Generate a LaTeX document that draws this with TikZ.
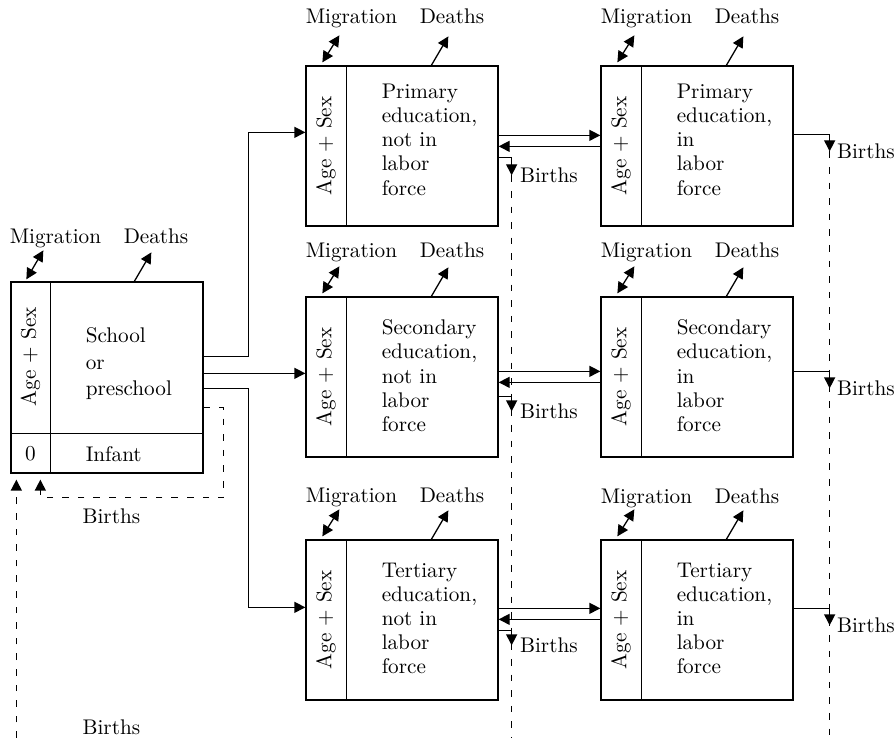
\documentclass[tikz,border=0pt]{standalone}
\usepackage{tikz}
\usetikzlibrary{arrows.meta}
\usetikzlibrary{calc}
\usetikzlibrary{positioning}

\begin{document}
\begin{tikzpicture}[x=0.5pt,y=0.5pt,yscale=-1,xscale=1,
  every node/.style={font=\fontsize{10.6}{12.1}\selectfont},
  cell/.style={draw,line width=0.65pt,minimum width=96pt,minimum height=80pt,inner sep=0pt},
  rule/.style={line width=0.65pt},
  txt/.style={anchor=north west,inner sep=0pt,align=left},
  side/.style={rotate=90,inner sep=0pt},
  lbl/.style={inner sep=0pt},
  tip/.style={-{Triangle[length=5.5pt,width=5.5pt]}},
  flow/.style={line width=0.65pt,tip},
  twoway/.style={line width=0.65pt,{Triangle[length=5.5pt,width=5.5pt]}-{Triangle[length=5.5pt,width=5.5pt]}},
  dashline/.style={line width=0.75pt,dash pattern=on 3.3pt off 4.5pt}]
\useasboundingbox (0,0) rectangle (895,738);
\coordinate (bot) at (0,738);

%Shape: boxes
\node[cell,minimum height=95.5pt] (sch) at (107,377.5) {};
\node[cell] (pn) at (402,146) {};
\node[cell] (pl) at (697,146) {};
\node[cell] (sn) at (402,377) {};
\node[cell] (sl) at (697,377) {};
\node[cell] (tn) at (402,620) {};
\node[cell] (tl) at (697,620) {};

%Straight Lines: dividers
\draw[rule] ($(sch.north west)+(40,0)$) -- ($(sch.south west)+(40,0)$);
\draw[rule] ($(sch.south west)+(0,-40)$) -- ($(sch.south east)+(0,-40)$);
\draw[rule] ($(pn.north west)+(41,0)$) -- ($(pn.south west)+(41,0)$);
\draw[rule] ($(pl.north west)+(41,0)$) -- ($(pl.south west)+(41,0)$);
\draw[rule] ($(sn.north west)+(41,0)$) -- ($(sn.south west)+(41,0)$);
\draw[rule] ($(sl.north west)+(41,0)$) -- ($(sl.south west)+(41,0)$);
\draw[rule] ($(tn.north west)+(41,0)$) -- ($(tn.south west)+(41,0)$);
\draw[rule] ($(tl.north west)+(41,0)$) -- ($(tl.south west)+(41,0)$);

% Text Node
\node[side] (schage) at ($(sch.north west)+(20,75.5)$) {Age + Sex};
\node[side] (pnage) at ($(pn.west)+(20.5,0)$) {Age + Sex};
\node[side] (plage) at ($(pl.west)+(20.5,0)$) {Age + Sex};
\node[side] (snage) at ($(sn.west)+(20.5,0)$) {Age + Sex};
\node[side] (slage) at ($(sl.west)+(20.5,0)$) {Age + Sex};
\node[side] (tnage) at ($(tn.west)+(20.5,0)$) {Age + Sex};
\node[side] (tlage) at ($(tl.west)+(20.5,0)$) {Age + Sex};

% Text Node
\node[txt,font=\fontsize{10.6}{13.2}\selectfont] (schtxt) at ($(sch.north west)+(75,46)$) {School\\or\\preschool};
\node[lbl] (schzero) at ($(sch.south west)+(20,-20)$) {0};
\node[lbl,anchor=west] (schinf) at ($(sch.south west)+(75,-20)$) {Infant};
\node[txt] (pntxt) at ($(pn.north west)+(76,18)$) {Primary\\education,\\not in\\labor\\force};
\node[txt] (pltxt) at ($(pl.north west)+(76,18)$) {Primary\\education,\\in\\labor\\force};
\node[txt] (sntxt) at ($(sn.north west)+(76,23)$) {Secondary\\education,\\not in\\labor\\force};
\node[txt] (sltxt) at ($(sl.north west)+(76,23)$) {Secondary\\education,\\in\\labor\\force};
\node[txt] (tntxt) at ($(tn.north west)+(76,23)$) {Tertiary\\education,\\not in\\labor\\force};
\node[txt] (tltxt) at ($(tl.north west)+(76,23)$) {Tertiary\\education,\\in\\labor\\force};

% Text Node: migration and deaths
\node[lbl,anchor=base west] (schmig) at ($(sch.north west)+(-1,-38)$) {Migration};
\node[lbl,anchor=base west] (schdea) at ($(sch.north west)+(113,-38)$) {Deaths};
\node[lbl,anchor=base west] (pnmig) at ($(pn.north west)+(0,-42)$) {Migration};
\node[lbl,anchor=base west] (pndea) at ($(pn.north west)+(114,-42)$) {Deaths};
\node[lbl,anchor=base west] (plmig) at ($(pl.north west)+(0,-42)$) {Migration};
\node[lbl,anchor=base west] (pldea) at ($(pl.north west)+(114,-42)$) {Deaths};
\node[lbl,anchor=base west] (snmig) at ($(sn.north west)+(0,-39)$) {Migration};
\node[lbl,anchor=base west] (sndea) at ($(sn.north west)+(114,-39)$) {Deaths};
\node[lbl,anchor=base west] (slmig) at ($(sl.north west)+(0,-39)$) {Migration};
\node[lbl,anchor=base west] (sldea) at ($(sl.north west)+(114,-39)$) {Deaths};
\node[lbl,anchor=base west] (tnmig) at ($(tn.north west)+(0,-37)$) {Migration};
\node[lbl,anchor=base west] (tndea) at ($(tn.north west)+(114,-37)$) {Deaths};
\node[lbl,anchor=base west] (tlmig) at ($(tl.north west)+(0,-36)$) {Migration};
\node[lbl,anchor=base west] (tldea) at ($(tl.north west)+(114,-36)$) {Deaths};

%Straight Lines: migration and deaths arrows
\draw[twoway] ($(sch.north west)+(16,-2)$) -- ($(sch.north west)+(33,-31)$);
\draw[flow] ($(sch.north west)+(124,0)$) -- ($(sch.north west)+(141,-29)$);
\draw[twoway] ($(pn.north west)+(17,-3)$) -- ($(pn.north west)+(34,-30)$);
\draw[flow] ($(pn.north west)+(126,0)$) -- ($(pn.north west)+(143,-29)$);
\draw[twoway] ($(pl.north west)+(17,-3)$) -- ($(pl.north west)+(34,-30)$);
\draw[flow] ($(pl.north west)+(126,0)$) -- ($(pl.north west)+(143,-29)$);
\draw[twoway] ($(sn.north west)+(17,-3)$) -- ($(sn.north west)+(34,-30)$);
\draw[flow] ($(sn.north west)+(126,0)$) -- ($(sn.north west)+(143,-29)$);
\draw[twoway] ($(sl.north west)+(17,-3)$) -- ($(sl.north west)+(34,-30)$);
\draw[flow] ($(sl.north west)+(126,0)$) -- ($(sl.north west)+(143,-29)$);
\draw[twoway] ($(tn.north west)+(17,-3)$) -- ($(tn.north west)+(34,-30)$);
\draw[flow] ($(tn.north west)+(126,0)$) -- ($(tn.north west)+(143,-29)$);
\draw[twoway] ($(tl.north west)+(17,-3)$) -- ($(tl.north west)+(34,-30)$);
\draw[flow] ($(tl.north west)+(126,0)$) -- ($(tl.north west)+(143,-29)$);

%Straight Lines: school to the three levels
\coordinate (s1) at ($(sch.north east)+(0,75)$);
\coordinate (s2) at ($(sch.north east)+(0,92)$);
\coordinate (s3) at ($(sch.north east)+(0,107)$);
\draw[flow] (s1) -- ++(45,0) |- ($(pn.north west)+(0,67)$);
\draw[flow] (s2) -- (s2 -| sn.west);
\draw[flow] (s3) -- ++(45,0) |- ($(tn.north west)+(0,68)$);

%Straight Lines: births back to infant
\coordinate (inf1) at ($(sch.south west)+(30,6)$);
\coordinate (inf2) at ($(sch.south west)+(6,6)$);
\draw[dashline,tip] ($(sch.north east)+(0,126)$) -- ++(20,0) |- ($(inf1)+(0,18)$) -- (inf1);
\draw[dashline,tip] (inf2 |- bot) -- (inf2);
\node[lbl] (schb1) at ($(sch.south west)+(101,43)$) {Births};
\node[lbl] (schb2) at ($(sch.south west)+(101,254)$) {Births};

%Straight Lines: between columns
\draw[flow] ($(pn.north east)+(0,70)$) -- ($(pl.north west)+(0,70)$);
\draw[flow] ($(pl.north west)+(0,81)$) -- ($(pn.north east)+(0,81)$);
\draw[flow] ($(sn.north east)+(0,75)$) -- ($(sl.north west)+(0,75)$);
\draw[flow] ($(sl.north west)+(0,86)$) -- ($(sn.north east)+(0,86)$);
\draw[flow] ($(tn.north east)+(0,69)$) -- ($(tl.north west)+(0,69)$);
\draw[flow] ($(tl.north west)+(0,80)$) -- ($(tn.north east)+(0,80)$);

%Straight Lines: births
\draw[flow] ($(pn.north east)+(0,92)$) -- ++(13,0) -- ++(0,18) coordinate (pnb);
\draw[flow] ($(sn.north east)+(0,100)$) -- ++(13,0) -- ++(0,15) coordinate (snb);
\draw[flow] ($(tn.north east)+(0,91)$) -- ++(13,0) -- ++(0,15) coordinate (tnb);
\draw[flow] ($(pl.north east)+(0,69)$) -- ++(36,0) -- ++(0,17) coordinate (plb);
\draw[flow] ($(sl.north east)+(0,75)$) -- ++(36,0) -- ++(0,17) coordinate (slb);
\draw[flow] ($(tl.north east)+(0,69)$) -- ++(36,0) -- ++(0,17) coordinate (tlb);
\draw[dashline] (pnb) -- (pnb |- bot);
\draw[dashline] (plb) -- (plb |- bot);

% Text Node
\node[lbl,anchor=west] (pnbl) at ($(pnb)+(8,0)$) {Births};
\node[lbl,anchor=west] (snbl) at ($(snb)+(8,0)$) {Births};
\node[lbl,anchor=west] (tnbl) at ($(tnb)+(8,0)$) {Births};
\node[lbl,anchor=west] (plbl) at ($(plb)+(7,0)$) {Births};
\node[lbl,anchor=west] (slbl) at ($(slb)+(7,0)$) {Births};
\node[lbl,anchor=west] (tlbl) at ($(tlb)+(7,0)$) {Births};

\end{tikzpicture}
\end{document}
